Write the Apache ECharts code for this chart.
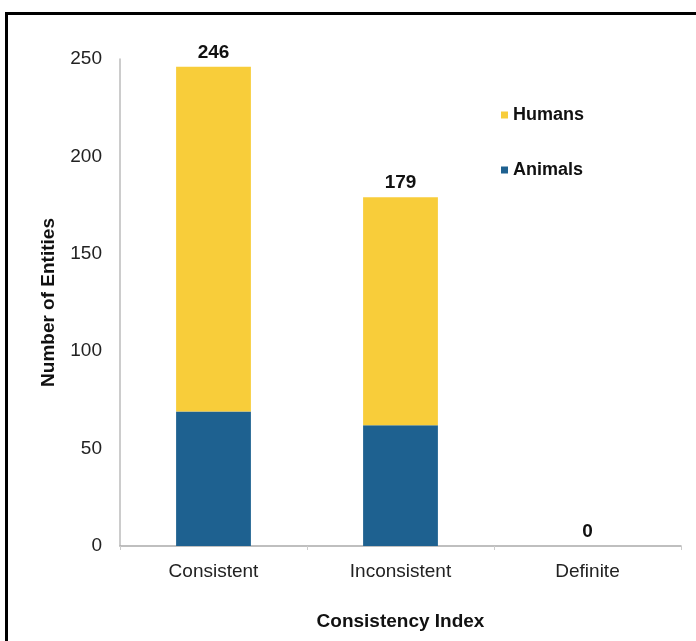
<!DOCTYPE html>
<html><head><meta charset="utf-8">
<script src="https://cdn.jsdelivr.net/npm/echarts@6/dist/echarts.min.js"></script>
<style>html,body{margin:0;padding:0;background:#fff}#c{width:696px;height:641px}</style>
</head><body><div id="c"></div>
<script>
const categories = ['Consistent', 'Inconsistent', 'Definite'];
const animals = [69, 62, 0];
const humans = [177, 117, 0];
const totals = [246, 179, 0];
const yTicks = [0, 50, 100, 150, 200, 250];

const chart = echarts.init(document.getElementById('c'));
const font = 'Liberation Sans, Arial, sans-serif';
chart.setOption({
  animation: false,
  backgroundColor: '#fff',
  graphic: [
    {type: 'rect', shape: {x: 5, y: 12, width: 700, height: 3}, style: {fill: '#000'}},
    {type: 'rect', shape: {x: 5, y: 12, width: 3, height: 640}, style: {fill: '#000'}}
  ],
  grid: {left: 120, right: 15, top: 59, bottom: 95, containLabel: false},
  legend: {
    orient: 'vertical', left: 496, top: 101, itemGap: 37,
    itemWidth: 7, itemHeight: 7, icon: 'rect',
    data: ['Humans', 'Animals'],
    textStyle: {fontFamily: font, fontSize: 18, fontWeight: 'bold', color: '#111', padding: [0, 0, 0, 0]}
  },
  xAxis: {
    type: 'category', data: categories,
    name: 'Consistency Index', nameLocation: 'middle', nameGap: 66,
    nameTextStyle: {fontFamily: font, fontSize: 19, fontWeight: 'bold', color: '#111'},
    axisLine: {lineStyle: {color: '#aaa', width: 1.5}},
    axisTick: {show: true, length: 4, lineStyle: {color: '#ccc'}},
    axisLabel: {fontFamily: font, fontSize: 19, color: '#222', margin: 16}
  },
  yAxis: {
    type: 'value', min: 0, max: 250, interval: 50,
    name: 'Number of Entities', nameLocation: 'middle', nameGap: 62,
    nameTextStyle: {fontFamily: font, fontSize: 19, fontWeight: 'bold', color: '#111'},
    axisLine: {show: true, lineStyle: {color: '#bbb', width: 1.5}},
    axisTick: {show: false},
    splitLine: {show: false},
    axisLabel: {fontFamily: font, fontSize: 19, color: '#222', margin: 18,
      formatter: v => yTicks.includes(v) ? String(v) : ''}
  },
  series: [
    {name: 'Animals', type: 'bar', stack: 't', data: animals, barWidth: '40%',
     itemStyle: {color: '#1E6190'}},
    {name: 'Humans', type: 'bar', stack: 't', data: humans, barWidth: '40%',
     itemStyle: {color: '#F8CD3A'},
     label: {show: true, position: 'top', distance: 5,
       formatter: p => String(totals[p.dataIndex]),
       fontFamily: font, fontSize: 19, fontWeight: 'bold', color: '#111'}}
  ]
});
</script></body></html>
